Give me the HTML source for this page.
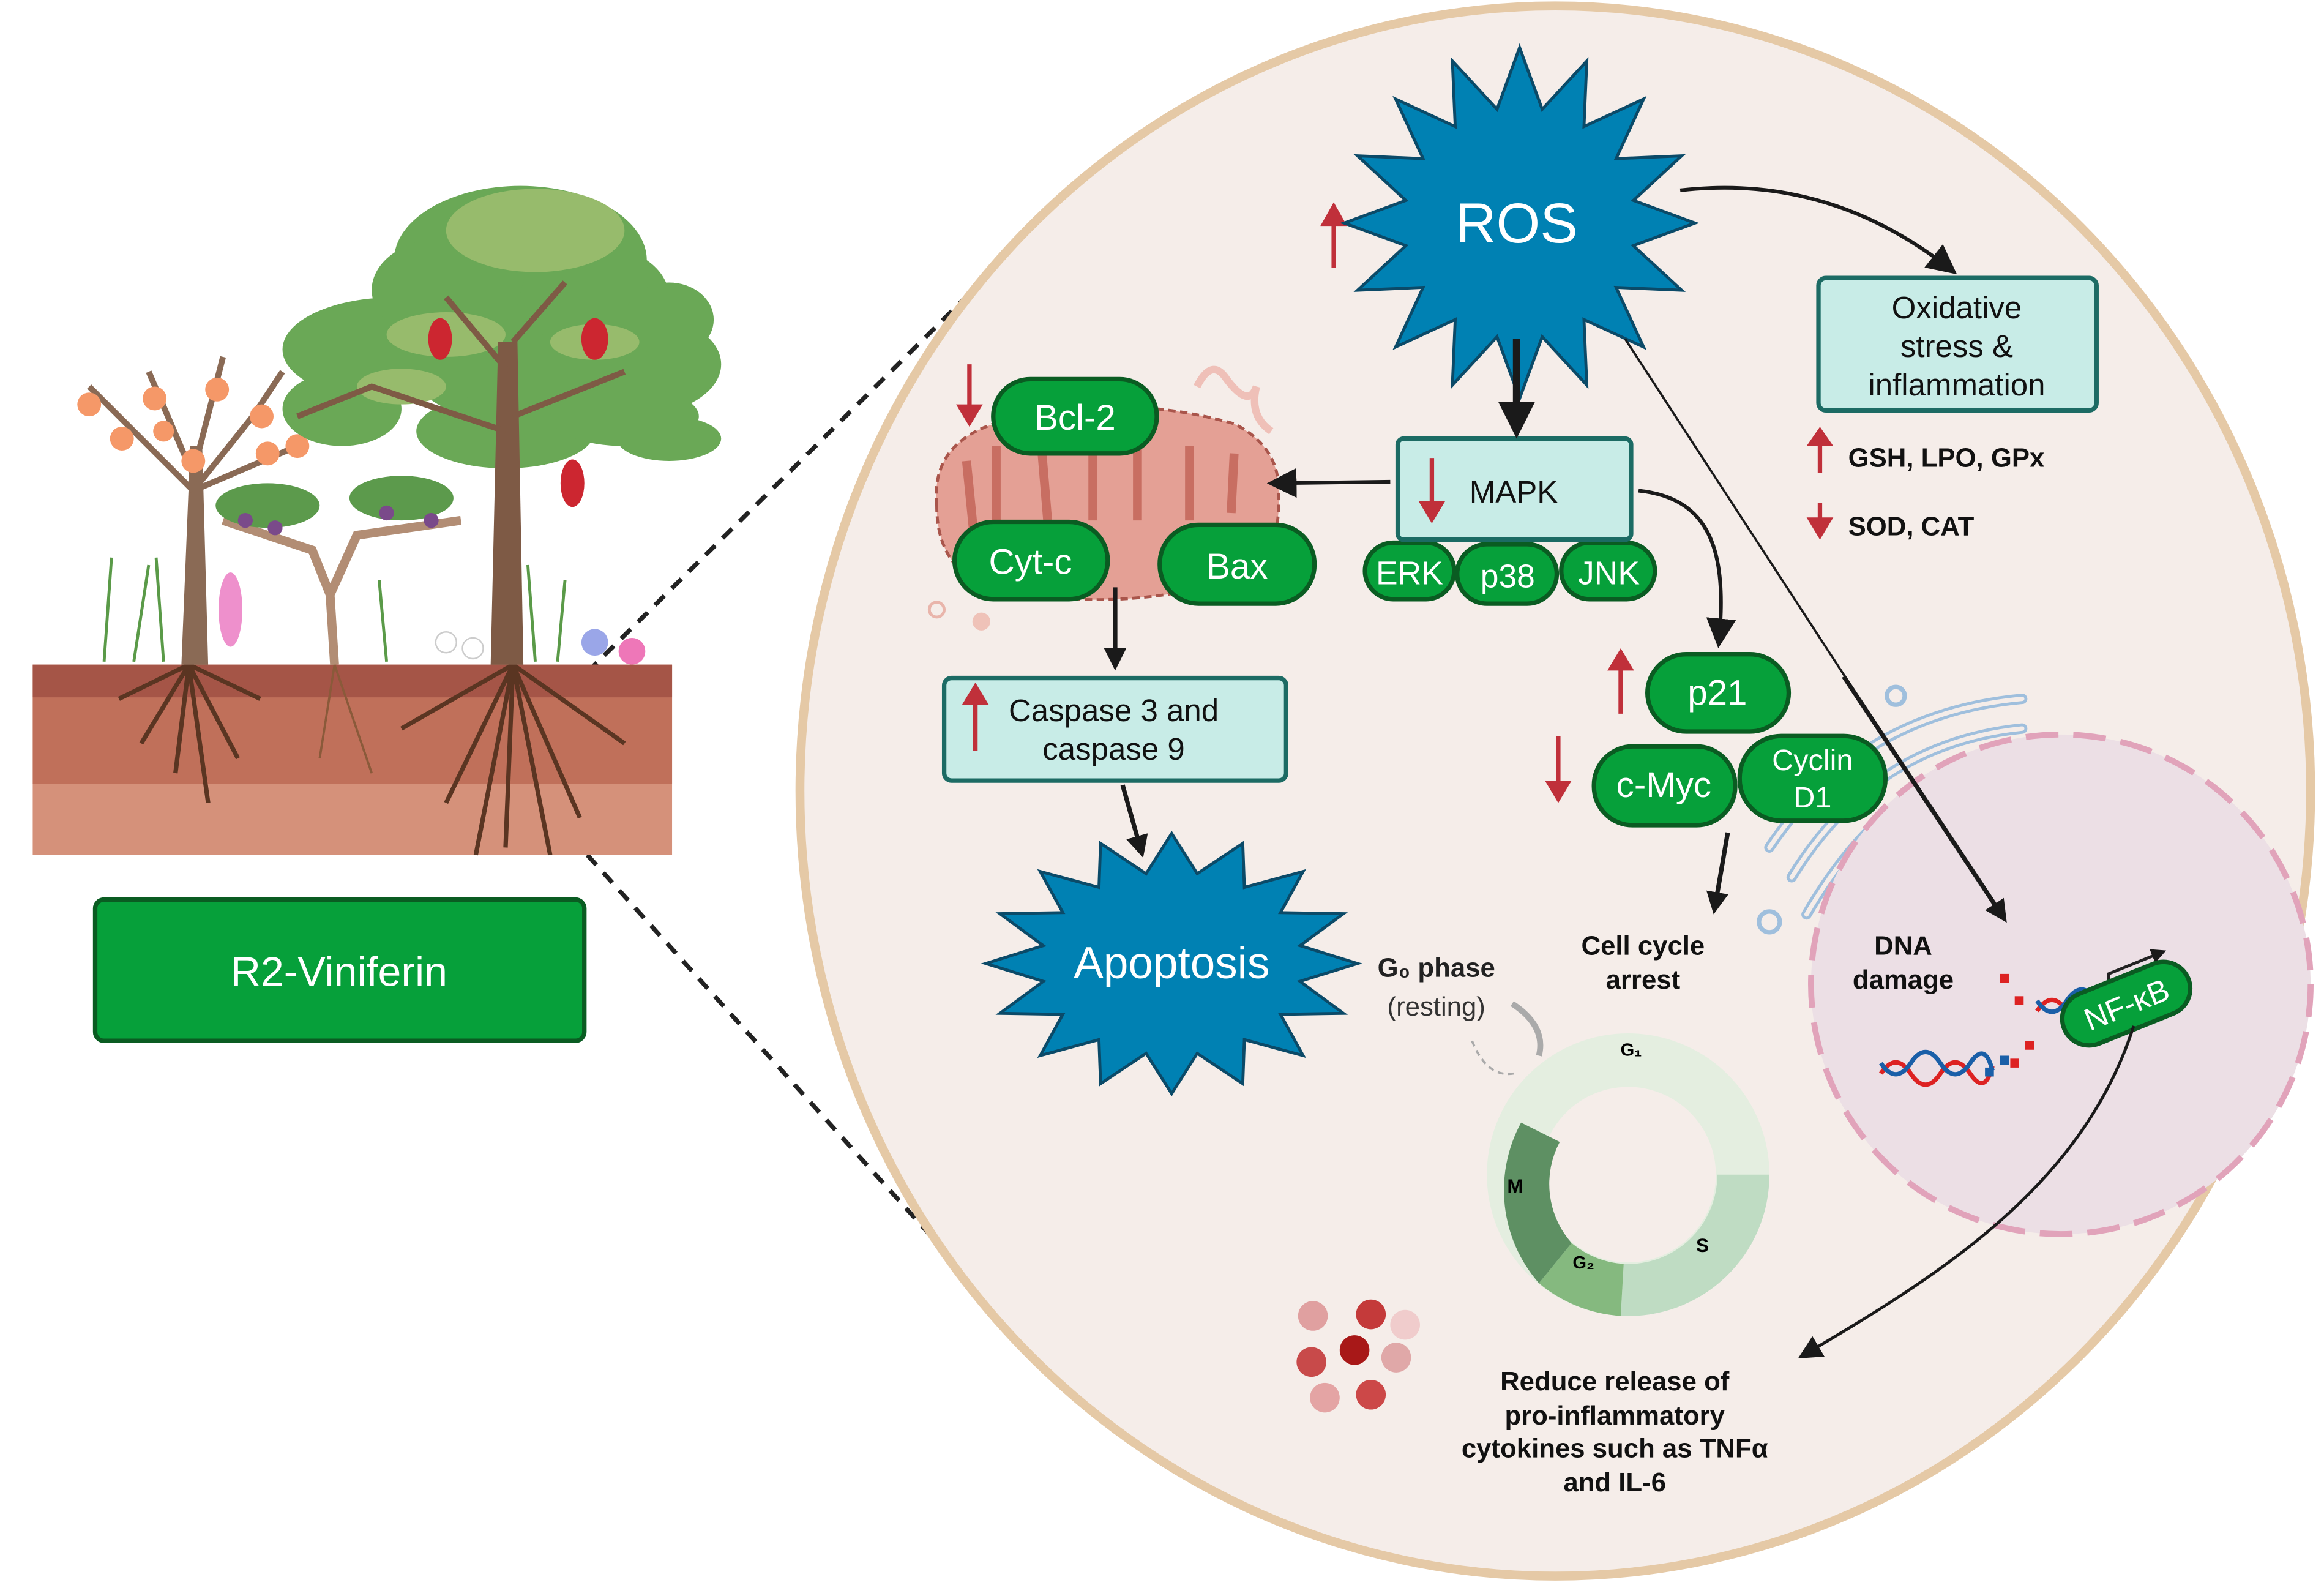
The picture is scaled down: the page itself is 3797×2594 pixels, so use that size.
<!DOCTYPE html>
<html><head><meta charset="utf-8"><style>
html,body{margin:0;padding:0;background:#fff;}
svg{display:block;}
text{font-family:"Liberation Sans",sans-serif;}
</style></head><body>
<svg id="s" width="3797" height="2594" viewBox="0 0 1563 1068" preserveAspectRatio="none" xmlns="http://www.w3.org/2000/svg">
<defs>
<marker id="ah" viewBox="0 0 10 10" refX="8" refY="5" markerWidth="5" markerHeight="5" orient="auto"><path d="M0,0 L10,5 L0,10 z" fill="#1a1a1a"/></marker>
<marker id="ahs" viewBox="0 0 10 10" refX="8" refY="5" markerWidth="8" markerHeight="8" orient="auto"><path d="M0,0 L10,5 L0,10 z" fill="#1a1a1a"/></marker>
</defs>
<rect width="1563" height="1068" fill="#fff"/>
<line x1="395" y1="452" x2="705" y2="145" stroke="#222" stroke-width="3" stroke-dasharray="9,7"/>
<line x1="395" y1="575" x2="625" y2="830" stroke="#222" stroke-width="3" stroke-dasharray="9,7"/>
<ellipse cx="1046" cy="532" rx="508" ry="528" fill="#f5ede9" stroke="#e5c9a6" stroke-width="6"/>
<rect x="22" y="447" width="430" height="128" fill="#d5917a"/>
<rect x="22" y="447" width="430" height="80" fill="#c0705a"/>
<rect x="22" y="447" width="430" height="22" fill="#a55547"/>
<g stroke="#5a3522" stroke-width="3" fill="none">
<path d="M127 447 L118 520 M127 447 L95 500 M127 447 L160 510 M127 447 L140 540 M127 447 L80 470 M127 447 L175 470"/>
<path d="M345 447 L340 570 M345 447 L300 540 M345 447 L390 550 M345 447 L270 490 M345 447 L420 500 M345 447 L320 575 M345 447 L370 575"/>
<path d="M225 447 L215 510 M225 447 L250 520" stroke="#8a5a3a" stroke-width="1.5"/>
</g>
<g>
<path d="M122 447 L128 300 L136 300 L140 447z" fill="#8a6a55"/>
<g stroke="#8a6a55" stroke-width="4" fill="none"><path d="M130 330 L80 280 L60 260 M130 330 L170 280 L190 250 M130 320 L100 250 M132 310 L150 240 M130 330 L200 300"/></g>
<g fill="#f59868"><circle cx="60" cy="272" r="8"/><circle cx="82" cy="295" r="8"/><circle cx="104" cy="268" r="8"/><circle cx="146" cy="262" r="8"/><circle cx="176" cy="280" r="8"/><circle cx="130" cy="310" r="8"/><circle cx="180" cy="305" r="8"/><circle cx="200" cy="300" r="8"/><circle cx="110" cy="290" r="7"/></g>
<g fill="#6aa856"><ellipse cx="350" cy="175" rx="85" ry="50"/><ellipse cx="265" cy="235" rx="75" ry="35"/><ellipse cx="425" cy="245" rx="60" ry="35"/><ellipse cx="350" cy="245" rx="75" ry="40"/><ellipse cx="230" cy="275" rx="40" ry="25"/><ellipse cx="450" cy="295" rx="35" ry="15"/><ellipse cx="300" cy="195" rx="50" ry="35"/><ellipse cx="400" cy="200" rx="50" ry="35"/><ellipse cx="340" cy="290" rx="60" ry="25"/><ellipse cx="420" cy="280" rx="50" ry="20"/><ellipse cx="450" cy="215" rx="30" ry="25"/></g>
<g fill="#97bb6c"><ellipse cx="360" cy="155" rx="60" ry="28"/><ellipse cx="300" cy="225" rx="40" ry="15"/><ellipse cx="400" cy="230" rx="30" ry="12"/><ellipse cx="270" cy="260" rx="30" ry="12"/></g>
<path d="M330 447 L335 230 L348 230 L352 447z" fill="#7e5a45"/>
<g stroke="#7e5a45" stroke-width="4" fill="none"><path d="M340 290 L250 260 L200 280 M345 280 L420 250 M342 250 L300 200 M345 230 L380 190"/></g>
<g fill="#cc2630"><ellipse cx="296" cy="228" rx="8" ry="14"/><ellipse cx="400" cy="228" rx="9" ry="14"/><ellipse cx="385" cy="325" rx="8" ry="16"/></g>
<path d="M225 447 L222 400 L210 370 L150 350 M222 400 L240 360 L310 350" stroke="#b28d74" stroke-width="6" fill="none"/>
<g fill="#5c9a4c"><ellipse cx="180" cy="340" rx="35" ry="15"/><ellipse cx="270" cy="335" rx="35" ry="15"/></g>
<g fill="#7a4a8a"><circle cx="165" cy="350" r="5"/><circle cx="185" cy="355" r="5"/><circle cx="260" cy="345" r="5"/><circle cx="290" cy="350" r="5"/></g>
<g stroke="#5a9a48" stroke-width="2" fill="none"><path d="M70 445 L75 375 M90 445 L100 380 M110 445 L105 375 M260 445 L255 390 M360 445 L355 380 M375 445 L380 390"/></g>
<g fill="#ee90cc"><ellipse cx="155" cy="410" rx="8" ry="25"/></g>
<g fill="#ffffff" stroke="#ccc"><circle cx="300" cy="432" r="7"/><circle cx="318" cy="436" r="7"/></g>
<circle cx="400" cy="432" r="9" fill="#9aa6e8"/><circle cx="425" cy="438" r="9" fill="#ee77b8"/>
</g>
<rect x="64" y="605" width="329" height="95" rx="6" fill="#06a03a" stroke="#0a5c22" stroke-width="3"/>
<text x="228" y="663" font-size="28" fill="#fff" text-anchor="middle">R2-Viniferin</text>

<g stroke="#9fbfdd" stroke-width="7" fill="none" stroke-linecap="round">
<path d="M1190 570 Q1250 480 1360 470"/><path d="M1205 590 Q1260 500 1360 490"/><path d="M1215 615 Q1270 520 1350 510"/><path d="M1225 640 Q1280 545 1340 530"/>
</g>
<g stroke="#f5ede9" stroke-width="3" fill="none" stroke-linecap="round">
<path d="M1190 570 Q1250 480 1360 470"/><path d="M1205 590 Q1260 500 1360 490"/><path d="M1215 615 Q1270 520 1350 510"/><path d="M1225 640 Q1280 545 1340 530"/>
</g>
<circle cx="1190" cy="620" r="7" fill="none" stroke="#9fbfdd" stroke-width="3"/>
<circle cx="1275" cy="468" r="6" fill="none" stroke="#9fbfdd" stroke-width="3"/>
<circle cx="1386" cy="662" r="168" fill="#ecdfe5" stroke="#e1a3ba" stroke-width="4" stroke-dasharray="22,10"/>
<text x="1280" y="642" font-size="18" font-weight="bold" fill="#111" text-anchor="middle">DNA</text>
<text x="1280" y="665" font-size="18" font-weight="bold" fill="#111" text-anchor="middle">damage</text>
<path d="M1265 722 q10 -15 20 0 t20 0 t20 0 t15 -5" stroke="#d22" stroke-width="3" fill="none"/>
<path d="M1265 715 q10 15 20 0 t20 0 t20 0 t15 5" stroke="#1a5fa8" stroke-width="3" fill="none"/>
<path d="M1370 680 q10 -15 20 0 t20 0 t20 0 t15 -5" stroke="#d22" stroke-width="3" fill="none"/>
<path d="M1370 673 q10 15 20 0 t20 0 t20 0" stroke="#1a5fa8" stroke-width="3" fill="none"/>
<g fill="#d22"><rect x="1345" y="655" width="6" height="6"/><rect x="1355" y="670" width="6" height="6"/><rect x="1362" y="700" width="6" height="6"/><rect x="1352" y="712" width="6" height="6"/></g>
<g fill="#1a5fa8"><rect x="1335" y="718" width="6" height="6"/><rect x="1345" y="710" width="6" height="6"/></g>
<path d="M1418 668 L1418 655 L1455 640" stroke="#222" stroke-width="2" fill="none" marker-end="url(#ah)"/>
<g transform="rotate(-22 1430 675)"><rect x="1385" y="657" width="90" height="36" rx="18" fill="#06a03a" stroke="#0a5c22" stroke-width="3"/><text x="1430" y="683" font-size="21" fill="#fff" text-anchor="middle">NF-κB</text></g>

<path d="M630 340 Q625 290 690 280 Q760 265 830 285 Q860 300 860 330 Q862 380 830 390 Q760 410 690 400 Q630 395 630 340z" fill="#e4a095" stroke="#a9554b" stroke-width="2" stroke-dasharray="5,3"/>
<g stroke="#c86e62" stroke-width="6" fill="none"><path d="M650 310 L655 360 M670 300 L670 360 M700 295 L705 355 M735 300 L735 350 M765 300 L765 350 M800 300 L800 350 M830 305 L828 345"/></g>
<path d="M805 260 q10 -20 20 -5 q15 20 20 5 q-5 20 10 30" stroke="#efc0b8" stroke-width="5" fill="none"/>
<circle cx="630" cy="410" r="5" fill="none" stroke="#e9b5ab" stroke-width="2"/><circle cx="660" cy="418" r="6" fill="#efc2b8"/>
<g stroke="#0a5c22" stroke-width="3" fill="#06a03a">
<rect x="668" y="255" width="110" height="50" rx="25"/>
<rect x="642" y="351" width="103" height="52" rx="26"/>
<rect x="780" y="353" width="104" height="53" rx="26"/>
<rect x="918" y="365" width="60" height="38" rx="19"/>
<rect x="980" y="366" width="67" height="40" rx="20"/>
<rect x="1050" y="365" width="63" height="38" rx="19"/>
<rect x="1108" y="440" width="95" height="52" rx="26"/>
<rect x="1072" y="502" width="95" height="53" rx="26"/>
<rect x="1170" y="495" width="98" height="57" rx="28"/>
</g>
<g fill="#fff" font-size="24" text-anchor="middle">
<text x="723" y="289">Bcl-2</text>
<text x="693" y="386">Cyt-c</text>
<text x="832" y="389">Bax</text>
<text x="948" y="393" font-size="22">ERK</text>
<text x="1014" y="395" font-size="22">p38</text>
<text x="1082" y="393" font-size="22">JNK</text>
<text x="1155" y="474">p21</text>
<text x="1119" y="536">c-Myc</text>
<text x="1219" y="518" font-size="20">Cyclin</text>
<text x="1219" y="543" font-size="20">D1</text>
</g>
<rect x="1223" y="187" width="187" height="89" rx="5" fill="#c8ece7" stroke="#1c6b64" stroke-width="3"/>
<g font-size="21" fill="#111" text-anchor="middle"><text x="1316" y="214">Oxidative</text><text x="1316" y="240">stress &amp;</text><text x="1316" y="266">inflammation</text></g>
<rect x="940" y="295" width="157" height="68" rx="4" fill="#c8ece7" stroke="#1c6b64" stroke-width="3"/>
<text x="1018" y="338" font-size="21" fill="#111" text-anchor="middle">MAPK</text>
<rect x="635" y="456" width="230" height="69" rx="5" fill="#c8ece7" stroke="#1c6b64" stroke-width="3"/>
<g font-size="21" fill="#111" text-anchor="middle"><text x="749" y="485">Caspase 3 and</text><text x="749" y="511">caspase 9</text></g>
<g font-size="18" font-weight="bold" fill="#111"><text x="1243" y="314">GSH, LPO,  GPx</text><text x="1243" y="360">SOD, CAT</text></g>
<g fill="#c0303a" stroke="#c0303a" stroke-width="3">
<line x1="897" y1="180" x2="897" y2="148"/><path d="M888 152 L897 136 L906 152z" stroke="none"/>
<line x1="1224" y1="318" x2="1224" y2="296"/><path d="M1215 300 L1224 287 L1233 300z" stroke="none"/>
<line x1="1224" y1="338" x2="1224" y2="352"/><path d="M1215 348 L1224 363 L1233 348z" stroke="none"/>
<line x1="652" y1="245" x2="652" y2="275"/><path d="M643 272 L652 287 L661 272z" stroke="none"/>
<line x1="963" y1="308" x2="963" y2="340"/><path d="M954 337 L963 352 L972 337z" stroke="none"/>
<line x1="656" y1="505" x2="656" y2="470"/><path d="M647 474 L656 459 L665 474z" stroke="none"/>
<line x1="1090" y1="480" x2="1090" y2="448"/><path d="M1081 451 L1090 436 L1099 451z" stroke="none"/>
<line x1="1048" y1="495" x2="1048" y2="528"/><path d="M1039 525 L1048 540 L1057 525z" stroke="none"/>
</g>
<polygon id="ros" fill="#0081b3" stroke="#0b4a68" stroke-width="2"/>
<text x="1020" y="163" font-size="38" fill="#fff" text-anchor="middle">ROS</text>
<polygon id="apo" fill="#0081b3" stroke="#0b4a68" stroke-width="2"/>
<text x="788" y="658" font-size="30" fill="#fff" text-anchor="middle">Apoptosis</text>
<g stroke="#1a1a1a" fill="none">
<path d="M1130 128 C1200 120 1260 140 1313 182" stroke-width="2.5" marker-end="url(#ahs)"/>
<line x1="1020" y1="228" x2="1020" y2="290" stroke-width="5" marker-end="url(#ah)"/>
<line x1="935" y1="324" x2="856" y2="325" stroke-width="2.5" marker-end="url(#ahs)"/>
<path d="M1102 330 C1150 335 1162 370 1156 432" stroke-width="2.5" marker-end="url(#ahs)"/>
<line x1="1093" y1="228" x2="1347" y2="618" stroke-width="1.5"/>
<line x1="1240" y1="455" x2="1348" y2="618" stroke-width="3" marker-end="url(#ah)"/>
<line x1="750" y1="395" x2="750" y2="448" stroke-width="3" marker-end="url(#ah)"/>
<line x1="755" y1="528" x2="768" y2="574" stroke-width="3" marker-end="url(#ah)"/>
<line x1="1162" y1="560" x2="1153" y2="612" stroke-width="3" marker-end="url(#ah)"/>
<path d="M1435 690 C1400 800 1300 860 1212 912" stroke-width="2" marker-end="url(#ahs)"/>
</g>
<g transform="translate(1095 790)">
<circle r="77" fill="none" stroke="#e4eee0" stroke-width="36"/>
<path d="M95 0 A95 95 0 0 1 -5 95 L-3 60 A60 60 0 0 0 60 0z" fill="#bfdcc3"/>
<path d="M-5 95 A95 95 0 0 1 -60 73 L-38 46 A60 60 0 0 0 -3 60z" fill="#85b97f"/>
<path d="M-60 73 A95 95 0 0 1 -72 -35 L-46 -22 A60 60 0 0 0 -38 46z" fill="#5e9063"/>
<text x="2" y="-80" font-size="12" font-weight="bold" text-anchor="middle">G₁</text>
<text x="50" y="52" font-size="13" font-weight="bold" text-anchor="middle">S</text>
<text x="-30" y="63" font-size="12" font-weight="bold" text-anchor="middle">G₂</text>
<text x="-76" y="12" font-size="13" font-weight="bold" text-anchor="middle">M</text>
</g>
<path d="M1017 675 Q1040 690 1035 710" stroke="#aaa" stroke-width="4" fill="none"/>
<path d="M990 700 Q1000 725 1018 722" stroke="#aaa" stroke-width="1.5" stroke-dasharray="4,3" fill="none"/>
<text x="966" y="657" font-size="18" font-weight="bold" fill="#222" text-anchor="middle">G₀ phase</text>
<text x="966" y="683" font-size="18" fill="#333" text-anchor="middle">(resting)</text>
<g font-size="18" font-weight="bold" fill="#111" text-anchor="middle"><text x="1105" y="642">Cell cycle</text><text x="1105" y="665">arrest</text>
<text x="1086" y="935">Reduce release of</text><text x="1086" y="958">pro-inflammatory</text><text x="1086" y="980">cytokines such as TNFα</text><text x="1086" y="1003">and IL-6</text></g>
<g><circle cx="883" cy="885" r="10" fill="#e0a0a0"/><circle cx="922" cy="884" r="10" fill="#c43a3a"/><circle cx="945" cy="891" r="10" fill="#f0cccc"/><circle cx="882" cy="916" r="10" fill="#c84a4a"/><circle cx="911" cy="908" r="10" fill="#a81818"/><circle cx="939" cy="913" r="10" fill="#e0a8a8"/><circle cx="891" cy="940" r="10" fill="#e4a4a4"/><circle cx="922" cy="938" r="10" fill="#cc4848"/></g>
</svg>
<script>
function star(id,cx,cy,ro,ri,n,sy){var p=[];for(var i=0;i<2*n;i++){var a=Math.PI*i/n-Math.PI/2;var r=i%2?ri:ro;p.push((cx+r*Math.cos(a)).toFixed(1)+","+(cy+r*Math.sin(a)*sy).toFixed(1));}document.getElementById(id).setAttribute("points",p.join(" "));}
star("ros",1022,150,118,78,16,1.0);
star("apo",788,648,125,88,16,0.7);
</script>
</body></html>
